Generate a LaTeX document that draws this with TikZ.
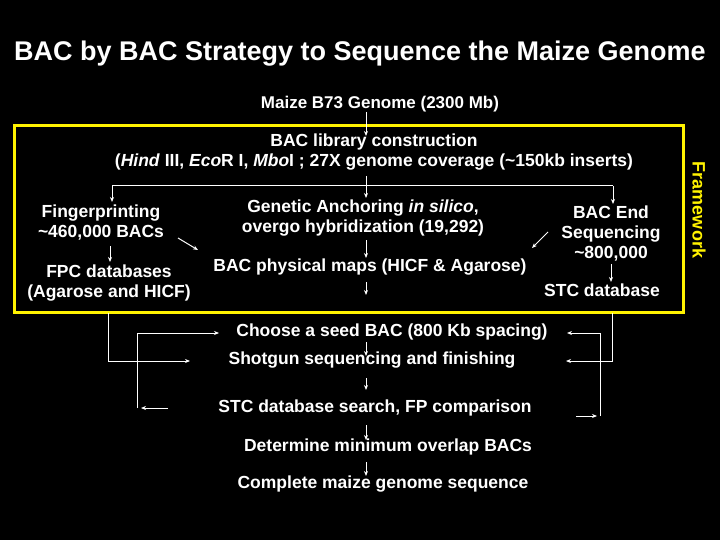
\documentclass[tikz,border=0pt]{standalone}
\usepackage{fontspec}
\usetikzlibrary{arrows.meta}
\setmainfont{Liberation Sans}
\begin{document}
\begin{tikzpicture}[x=1pt,y=-1pt,
  txt/.style={text=white,font=\bfseries\fontsize{17.5}{19}\selectfont,inner sep=1pt,align=center},
  ln/.style={draw=white,line width=1pt},
  ar/.style={ln,-{Stealth[length=5pt,width=4pt]}}]
\fill[black] (0,0) rectangle (720,540);
\useasboundingbox (0,0) rectangle (720,540);
\node[text=white,font=\bfseries\fontsize{27}{30}\selectfont] (title) at (360,54) {BAC by BAC Strategy to Sequence the Maize Genome};
\draw[yellow,line width=3pt] (14,126) rectangle (683,312);
\node[text=yellow,font=\bfseries\fontsize{18}{20}\selectfont,rotate=-90] (fw) at (699,210) {Framework};
\node[txt,font=\bfseries\fontsize{17}{19}\selectfont] (maize) at (380,104) {Maize B73 Genome (2300 Mb)};
\node[txt] (lib) at (374,152) {BAC library construction\\[1pt](\textit{Hind} III, \textit{Eco}R I, \textit{Mbo}I ; 27X genome coverage (\textasciitilde150kb inserts)};
\node[txt] (fp) at (101,223) {Fingerprinting\\[1pt]\textasciitilde460,000 BACs};
\node[txt] (fpc) at (109,283) {FPC databases\\[1pt](Agarose and HICF)};
\node[txt] (ga) at (363,218) {Genetic Anchoring \textit{in silico},\\[1pt]overgo hybridization (19,292)};
\node[txt] (pm) at (370,267) {BAC physical maps (HICF \& Agarose)};
\node[txt] (be) at (611,234) {BAC End\\[1pt]Sequencing\\[1pt]\textasciitilde800,000};
\node[txt] (stc) at (602,290) {STC database};
\node[txt] (seed) at (392,332) {Choose a seed BAC (800 Kb spacing)};
\node[txt] (shot) at (372,360) {Shotgun sequencing and finishing};
\node[txt] (srch) at (375,408) {STC database search, FP comparison};
\node[txt] (det) at (388,447) {Determine minimum overlap BACs};
\node[txt] (comp) at (383,484) {Complete maize genome sequence};
% top arrows
\coordinate (m1) at (366,112); \coordinate (m2) at (366,136);
\draw[ar] (m1) -- (m2);
\coordinate (hL) at (112,186); \coordinate (hR) at (613,186);
\draw[ln] (hL) -- (hR);
\draw[ar] (hL) -- (112,202);
\draw[ar] (366,176) -- (366,198);
\draw[ar] (hR) -- (613,204);
\draw[ar] (110,246) -- (110,262);
\draw[ar] (178,238) -- (198,250);
\draw[ar] (366,240) -- (366,258);
\draw[ar] (366,282) -- (366,295);
\draw[ar] (548,232) -- (532,248);
\draw[ar] (611,264) -- (611,282);
% lower loops
\draw[ar] (108,313) -- (108,361) -- (190,361);
\draw[ar] (612,313) -- (612,361) -- (566,361);
\draw[ar] (137,408) -- (137,333) -- (219,333);
\draw[ar] (168,408) -- (141,408);
\draw[ar] (600,416) -- (600,333) -- (567,333);
\draw[ar] (576,416) -- (597,416);
\draw[ar] (366,342) -- (366,356);
\draw[ar] (366,378) -- (366,390);
\draw[ar] (366,425) -- (366,440);
\draw[ar] (366,462) -- (366,476);
\end{tikzpicture}
\end{document}
